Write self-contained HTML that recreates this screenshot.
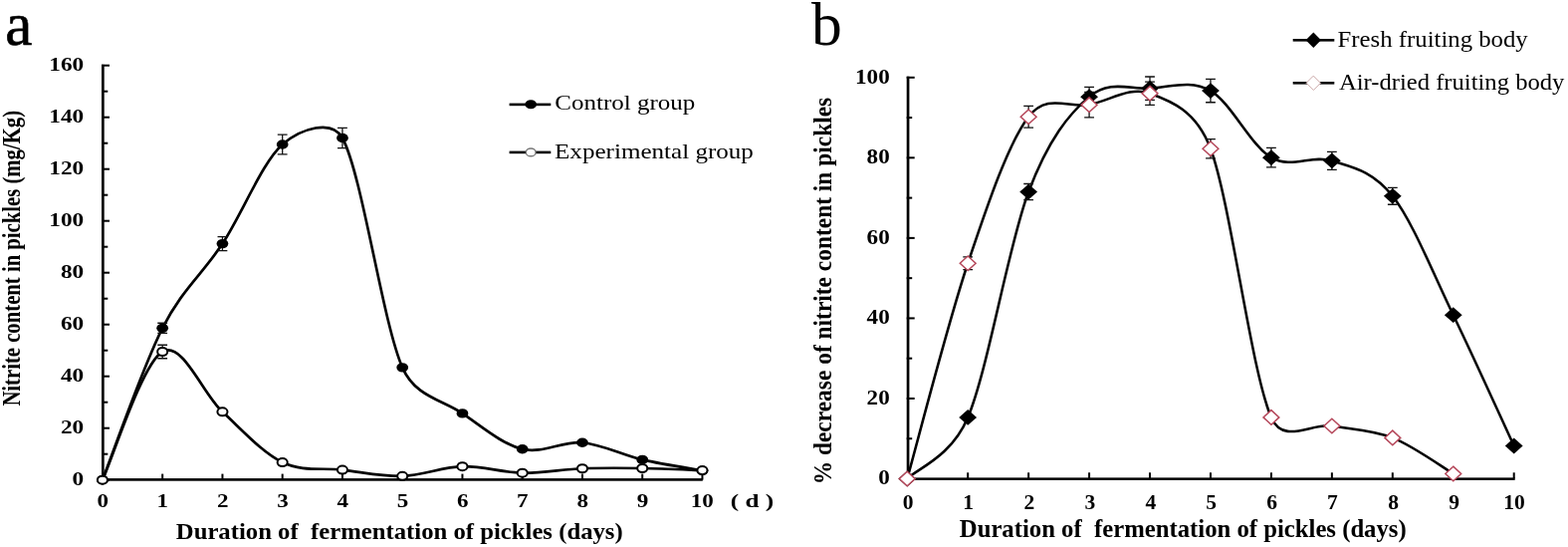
<!DOCTYPE html>
<html><head><meta charset="utf-8"><style>
html,body{margin:0;padding:0;background:#fff;}
svg{display:block;}
text{font-family:"Liberation Serif","Times New Roman",serif;white-space:pre;}
</style></head><body>
<svg width="1575" height="549" viewBox="0 0 1575 549">
<rect width="1575" height="549" fill="#fff"/>
<rect x="102" y="64.8" width="2.7" height="417.9" fill="#000"/>
<rect x="102" y="480.1" width="603.8" height="2.6" fill="#000"/>
<rect x="102" y="480.70" width="8" height="2" fill="#000"/>
<rect x="102" y="454.70" width="6.3" height="2" fill="#000"/>
<rect x="102" y="428.70" width="8" height="2" fill="#000"/>
<rect x="102" y="402.70" width="6.3" height="2" fill="#000"/>
<rect x="102" y="376.70" width="8" height="2" fill="#000"/>
<rect x="102" y="350.70" width="6.3" height="2" fill="#000"/>
<rect x="102" y="324.70" width="8" height="2" fill="#000"/>
<rect x="102" y="298.70" width="6.3" height="2" fill="#000"/>
<rect x="102" y="272.70" width="8" height="2" fill="#000"/>
<rect x="102" y="246.70" width="6.3" height="2" fill="#000"/>
<rect x="102" y="220.70" width="8" height="2" fill="#000"/>
<rect x="102" y="194.70" width="6.3" height="2" fill="#000"/>
<rect x="102" y="168.70" width="8" height="2" fill="#000"/>
<rect x="102" y="142.70" width="6.3" height="2" fill="#000"/>
<rect x="102" y="116.70" width="8" height="2" fill="#000"/>
<rect x="102" y="90.70" width="6.3" height="2" fill="#000"/>
<rect x="102" y="64.70" width="8" height="2" fill="#000"/>
<rect x="162.18" y="475.6" width="2" height="6" fill="#000"/>
<rect x="222.44" y="475.6" width="2" height="6" fill="#000"/>
<rect x="282.69" y="475.6" width="2" height="6" fill="#000"/>
<rect x="342.95" y="475.6" width="2" height="6" fill="#000"/>
<rect x="403.20" y="475.6" width="2" height="6" fill="#000"/>
<rect x="463.45" y="475.6" width="2" height="6" fill="#000"/>
<rect x="523.71" y="475.6" width="2" height="6" fill="#000"/>
<rect x="583.96" y="475.6" width="2" height="6" fill="#000"/>
<rect x="644.22" y="475.6" width="2" height="6" fill="#000"/>
<rect x="704.47" y="475.6" width="2" height="6" fill="#000"/>
<text transform="translate(72.59,486.60) scale(1.2000,1)" font-size="19.4" font-weight="700" fill="#000">0</text>
<text transform="translate(60.95,434.60) scale(1.2000,1)" font-size="19.4" font-weight="700" fill="#000">20</text>
<text transform="translate(60.95,382.60) scale(1.2000,1)" font-size="19.4" font-weight="700" fill="#000">40</text>
<text transform="translate(60.95,330.60) scale(1.2000,1)" font-size="19.4" font-weight="700" fill="#000">60</text>
<text transform="translate(60.95,278.60) scale(1.2000,1)" font-size="19.4" font-weight="700" fill="#000">80</text>
<text transform="translate(49.31,226.60) scale(1.2000,1)" font-size="19.4" font-weight="700" fill="#000">100</text>
<text transform="translate(49.31,174.60) scale(1.2000,1)" font-size="19.4" font-weight="700" fill="#000">120</text>
<text transform="translate(49.31,122.60) scale(1.2000,1)" font-size="19.4" font-weight="700" fill="#000">140</text>
<text transform="translate(49.31,70.60) scale(1.2000,1)" font-size="19.4" font-weight="700" fill="#000">160</text>
<text transform="translate(97.47,509.40) scale(1.2000,1)" font-size="19.2" font-weight="700" fill="#000">0</text>
<text transform="translate(157.38,509.40) scale(1.2000,1)" font-size="19.2" font-weight="700" fill="#000">1</text>
<text transform="translate(218.04,509.40) scale(1.2000,1)" font-size="19.2" font-weight="700" fill="#000">2</text>
<text transform="translate(278.17,509.40) scale(1.2000,1)" font-size="19.2" font-weight="700" fill="#000">3</text>
<text transform="translate(338.54,509.40) scale(1.2000,1)" font-size="19.2" font-weight="700" fill="#000">4</text>
<text transform="translate(398.68,509.40) scale(1.2000,1)" font-size="19.2" font-weight="700" fill="#000">5</text>
<text transform="translate(458.94,509.40) scale(1.2000,1)" font-size="19.2" font-weight="700" fill="#000">6</text>
<text transform="translate(518.90,509.40) scale(1.2000,1)" font-size="19.2" font-weight="700" fill="#000">7</text>
<text transform="translate(579.50,509.40) scale(1.2000,1)" font-size="19.2" font-weight="700" fill="#000">8</text>
<text transform="translate(639.87,509.40) scale(1.2000,1)" font-size="19.2" font-weight="700" fill="#000">9</text>
<text transform="translate(693.79,509.40) scale(1.2000,1)" font-size="19.2" font-weight="700" fill="#000">10</text>
<text transform="translate(733.87,508.50) scale(1.3124,1)" font-size="19.2" font-weight="700" fill="#000">( d )</text>
<text transform="translate(176.81,541.40) scale(1.0894,1)" font-size="22.7" font-weight="700" fill="#000">Duration of  fermentation of pickles (days)</text>
<text transform="translate(19.50,407.61) scale(1.2000,1.0004) rotate(-90)" font-size="20.7" font-weight="700">Nitrite content in pickles (mg/Kg)</text>
<text transform="translate(5.16,44.60) scale(0.9921,1)" font-size="61.5" font-weight="400" fill="#000" stroke="#000" stroke-width="0.7">a</text>
<path d="M102.93,481.70 C112.97,456.31 143.10,368.86 163.18,329.34 C183.27,289.82 203.35,275.30 223.44,244.58 C243.52,213.86 263.61,162.68 283.69,145.00 C302.12,128.78 333.64,119.35 343.95,138.50 C364.03,175.81 384.12,322.80 404.20,368.86 C416.99,398.19 444.37,401.23 464.45,414.88 C484.54,428.53 504.62,445.86 524.71,450.76 C544.79,455.66 564.88,442.48 584.96,444.26 C605.05,446.04 625.13,456.74 645.22,461.42 C665.30,466.10 695.43,470.52 705.47,472.34" fill="none" stroke="#000" stroke-width="2.7"/>
<path d="M102.93,481.70 C112.97,460.25 143.10,364.40 163.18,353.00 C183.27,341.60 203.35,394.82 223.44,413.32 C243.52,431.82 263.61,454.31 283.69,464.02 C303.78,473.73 323.86,469.26 343.95,471.56 C364.03,473.86 384.12,478.36 404.20,477.80 C424.28,477.24 444.37,468.70 464.45,468.18 C484.54,467.66 504.62,474.33 524.71,474.68 C544.79,475.03 564.88,471.04 584.96,470.26 C605.05,469.48 625.13,469.70 645.22,470.00 C665.30,470.30 695.43,471.73 705.47,472.08" fill="none" stroke="#000" stroke-width="2.7"/>
<path d="M163.18,324.27V334.41M158.28,324.27H168.08M158.28,334.41H168.08" stroke="#111" stroke-width="1.3" fill="none"/>
<path d="M223.44,237.56V251.60M218.54,237.56H228.34M218.54,251.60H228.34" stroke="#111" stroke-width="1.3" fill="none"/>
<path d="M283.69,135.12V154.88M278.79,135.12H288.59M278.79,154.88H288.59" stroke="#111" stroke-width="1.3" fill="none"/>
<path d="M343.95,128.36V148.64M339.05,128.36H348.85M339.05,148.64H348.85" stroke="#111" stroke-width="1.3" fill="none"/>
<path d="M163.18,346.24V359.76M158.28,346.24H168.08M158.28,359.76H168.08" stroke="#111" stroke-width="1.3" fill="none"/>
<ellipse cx="102.93" cy="481.70" rx="5.9" ry="4.7" fill="#000"/>
<ellipse cx="163.18" cy="329.34" rx="5.9" ry="4.7" fill="#000"/>
<ellipse cx="223.44" cy="244.58" rx="5.9" ry="4.7" fill="#000"/>
<ellipse cx="283.69" cy="145.00" rx="5.9" ry="4.7" fill="#000"/>
<ellipse cx="343.95" cy="138.50" rx="5.9" ry="4.7" fill="#000"/>
<ellipse cx="404.20" cy="368.86" rx="5.9" ry="4.7" fill="#000"/>
<ellipse cx="464.45" cy="414.88" rx="5.9" ry="4.7" fill="#000"/>
<ellipse cx="524.71" cy="450.76" rx="5.9" ry="4.7" fill="#000"/>
<ellipse cx="584.96" cy="444.26" rx="5.9" ry="4.7" fill="#000"/>
<ellipse cx="645.22" cy="461.42" rx="5.9" ry="4.7" fill="#000"/>
<ellipse cx="705.47" cy="472.34" rx="5.9" ry="4.7" fill="#000"/>
<ellipse cx="102.93" cy="481.70" rx="5.05" ry="4.05" fill="#fff" stroke="#000" stroke-width="2"/>
<ellipse cx="163.18" cy="353.00" rx="5.05" ry="4.05" fill="#fff" stroke="#000" stroke-width="2"/>
<ellipse cx="223.44" cy="413.32" rx="5.05" ry="4.05" fill="#fff" stroke="#000" stroke-width="2"/>
<ellipse cx="283.69" cy="464.02" rx="5.05" ry="4.05" fill="#fff" stroke="#000" stroke-width="2"/>
<ellipse cx="343.95" cy="471.56" rx="5.05" ry="4.05" fill="#fff" stroke="#000" stroke-width="2"/>
<ellipse cx="404.20" cy="477.80" rx="5.05" ry="4.05" fill="#fff" stroke="#000" stroke-width="2"/>
<ellipse cx="464.45" cy="468.18" rx="5.05" ry="4.05" fill="#fff" stroke="#000" stroke-width="2"/>
<ellipse cx="524.71" cy="474.68" rx="5.05" ry="4.05" fill="#fff" stroke="#000" stroke-width="2"/>
<ellipse cx="584.96" cy="470.26" rx="5.05" ry="4.05" fill="#fff" stroke="#000" stroke-width="2"/>
<ellipse cx="645.22" cy="470.00" rx="5.05" ry="4.05" fill="#fff" stroke="#000" stroke-width="2"/>
<ellipse cx="705.47" cy="472.08" rx="5.05" ry="4.05" fill="#fff" stroke="#000" stroke-width="2"/>
<rect x="511.6" y="103.6" width="41.7" height="2.6" fill="#000"/>
<ellipse cx="533.2" cy="104.8" rx="5.8" ry="4.5" fill="#000"/>
<text transform="translate(557.30,109.90) scale(1.2077,1)" font-size="20.7" font-weight="400" fill="#000">Control group</text>
<rect x="511.6" y="151.6" width="41.7" height="2.6" fill="#000"/>
<ellipse cx="533.2" cy="152.9" rx="4.9" ry="3.9" fill="#fff" stroke="#777" stroke-width="1.4"/>
<text transform="translate(557.05,158.80) scale(1.2120,1)" font-size="20.7" font-weight="400" fill="#000">Experimental group</text>
<rect x="910.7" y="76.7" width="2.7" height="405.2" fill="#000"/>
<rect x="910.7" y="479.4" width="611" height="2.5" fill="#000"/>
<rect x="910.7" y="479.50" width="8" height="2" fill="#000"/>
<rect x="910.7" y="439.23" width="5.5" height="2" fill="#000"/>
<rect x="910.7" y="398.96" width="8" height="2" fill="#000"/>
<rect x="910.7" y="358.69" width="5.5" height="2" fill="#000"/>
<rect x="910.7" y="318.42" width="8" height="2" fill="#000"/>
<rect x="910.7" y="278.15" width="5.5" height="2" fill="#000"/>
<rect x="910.7" y="237.88" width="8" height="2" fill="#000"/>
<rect x="910.7" y="197.61" width="5.5" height="2" fill="#000"/>
<rect x="910.7" y="157.34" width="8" height="2" fill="#000"/>
<rect x="910.7" y="117.07" width="5.5" height="2" fill="#000"/>
<rect x="910.7" y="76.80" width="8" height="2" fill="#000"/>
<rect x="971.18" y="474.3" width="2" height="6" fill="#000"/>
<rect x="1032.13" y="474.3" width="2" height="6" fill="#000"/>
<rect x="1093.07" y="474.3" width="2" height="6" fill="#000"/>
<rect x="1154.02" y="474.3" width="2" height="6" fill="#000"/>
<rect x="1214.97" y="474.3" width="2" height="6" fill="#000"/>
<rect x="1275.92" y="474.3" width="2" height="6" fill="#000"/>
<rect x="1336.87" y="474.3" width="2" height="6" fill="#000"/>
<rect x="1397.81" y="474.3" width="2" height="6" fill="#000"/>
<rect x="1458.76" y="474.3" width="2" height="6" fill="#000"/>
<rect x="1519.71" y="474.3" width="2" height="6" fill="#000"/>
<text transform="translate(882.17,486.40) scale(1.1000,1)" font-size="21" font-weight="700" fill="#000">0</text>
<text transform="translate(870.62,405.86) scale(1.1000,1)" font-size="21" font-weight="700" fill="#000">20</text>
<text transform="translate(870.62,325.32) scale(1.1000,1)" font-size="21" font-weight="700" fill="#000">40</text>
<text transform="translate(870.62,244.78) scale(1.1000,1)" font-size="21" font-weight="700" fill="#000">60</text>
<text transform="translate(870.62,164.24) scale(1.1000,1)" font-size="21" font-weight="700" fill="#000">80</text>
<text transform="translate(859.07,83.70) scale(1.1000,1)" font-size="21" font-weight="700" fill="#000">100</text>
<text transform="translate(906.65,511.10) scale(1.0500,1)" font-size="20.5" font-weight="700" fill="#000">0</text>
<text transform="translate(967.27,511.10) scale(1.0500,1)" font-size="20.5" font-weight="700" fill="#000">1</text>
<text transform="translate(1028.60,511.10) scale(1.0500,1)" font-size="20.5" font-weight="700" fill="#000">2</text>
<text transform="translate(1089.44,511.10) scale(1.0500,1)" font-size="20.5" font-weight="700" fill="#000">3</text>
<text transform="translate(1150.49,511.10) scale(1.0500,1)" font-size="20.5" font-weight="700" fill="#000">4</text>
<text transform="translate(1211.33,511.10) scale(1.0500,1)" font-size="20.5" font-weight="700" fill="#000">5</text>
<text transform="translate(1272.28,511.10) scale(1.0500,1)" font-size="20.5" font-weight="700" fill="#000">6</text>
<text transform="translate(1332.96,511.10) scale(1.0500,1)" font-size="20.5" font-weight="700" fill="#000">7</text>
<text transform="translate(1394.23,511.10) scale(1.0500,1)" font-size="20.5" font-weight="700" fill="#000">8</text>
<text transform="translate(1455.29,511.10) scale(1.0500,1)" font-size="20.5" font-weight="700" fill="#000">9</text>
<text transform="translate(1510.32,511.10) scale(1.0500,1)" font-size="20.5" font-weight="700" fill="#000">10</text>
<text transform="translate(963.81,538.50) scale(1.0214,1)" font-size="24.2" font-weight="700" fill="#000">Duration of  fermentation of pickles (days)</text>
<text transform="translate(835.00,486.36) scale(1.0500,0.9999) rotate(-90)" font-size="23.43" font-weight="700">% decrease of nitrite content in pickles</text>
<text transform="translate(815.00,44.60) scale(1.0069,1)" font-size="61.1" font-weight="400" fill="#000">b</text>
<path d="M911.23,480.50 C921.39,470.23 955.28,458.79 972.18,418.89 C992.49,370.90 1012.81,246.20 1033.13,192.57 C1053.19,139.62 1073.76,114.45 1094.07,97.13 C1114.39,79.81 1134.71,89.68 1155.02,88.67 C1175.34,87.67 1195.65,79.51 1215.97,91.09 C1236.29,102.67 1256.60,146.43 1276.92,158.14 C1297.23,169.85 1317.55,154.92 1337.87,161.36 C1358.18,167.80 1378.50,170.99 1398.81,196.80 C1419.13,222.60 1439.45,274.42 1459.76,316.20 C1480.08,357.98 1510.55,425.60 1520.71,447.48" fill="none" stroke="#000" stroke-width="2.55"/>
<path d="M911.23,480.50 C921.39,444.46 951.86,324.79 972.18,264.25 C992.49,203.71 1012.81,143.78 1033.13,117.26 C1052.02,92.61 1073.76,109.11 1094.07,105.18 C1114.39,101.26 1134.71,86.36 1155.02,93.71 C1175.34,101.06 1201.49,110.66 1215.97,149.28 C1236.29,203.48 1256.60,372.51 1276.92,418.89 C1289.27,447.08 1317.55,424.12 1337.87,427.54 C1358.18,430.97 1378.50,431.44 1398.81,439.42 C1419.13,447.41 1449.60,469.46 1459.76,475.47" fill="none" stroke="#000" stroke-width="2.55"/>
<path d="M1033.13,184.52V200.62M1028.23,184.52H1038.03M1028.23,200.62H1038.03" stroke="#111" stroke-width="1.3" fill="none"/>
<path d="M1094.07,87.46V106.79M1089.17,87.46H1098.97M1089.17,106.79H1098.97" stroke="#111" stroke-width="1.3" fill="none"/>
<path d="M1155.02,76.99V100.35M1150.12,76.99H1159.92M1150.12,100.35H1159.92" stroke="#111" stroke-width="1.3" fill="none"/>
<path d="M1215.97,79.41V102.77M1211.07,79.41H1220.87M1211.07,102.77H1220.87" stroke="#111" stroke-width="1.3" fill="none"/>
<path d="M1276.92,148.47V167.80M1272.02,148.47H1281.82M1272.02,167.80H1281.82" stroke="#111" stroke-width="1.3" fill="none"/>
<path d="M1337.87,152.30V170.42M1332.97,152.30H1342.77M1332.97,170.42H1342.77" stroke="#111" stroke-width="1.3" fill="none"/>
<path d="M1398.81,188.34V205.25M1393.91,188.34H1403.71M1393.91,205.25H1403.71" stroke="#111" stroke-width="1.3" fill="none"/>
<path d="M972.18,257.81V270.69M967.28,257.81H977.08M967.28,270.69H977.08" stroke="#111" stroke-width="1.3" fill="none"/>
<path d="M1033.13,106.39V128.14M1028.23,106.39H1038.03M1028.23,128.14H1038.03" stroke="#111" stroke-width="1.3" fill="none"/>
<path d="M1094.07,92.50V117.87M1089.17,92.50H1098.97M1089.17,117.87H1098.97" stroke="#111" stroke-width="1.3" fill="none"/>
<path d="M1155.02,82.03V105.38M1150.12,82.03H1159.92M1150.12,105.38H1159.92" stroke="#111" stroke-width="1.3" fill="none"/>
<path d="M1215.97,139.61V158.94M1211.07,139.61H1220.87M1211.07,158.94H1220.87" stroke="#111" stroke-width="1.3" fill="none"/>
<path d="M911.23,472.60L920.13,480.50L911.23,488.40L902.33,480.50Z" fill="#000"/>
<path d="M972.18,410.99L981.08,418.89L972.18,426.79L963.28,418.89Z" fill="#000"/>
<path d="M1033.13,184.67L1042.03,192.57L1033.13,200.47L1024.23,192.57Z" fill="#000"/>
<path d="M1094.07,89.23L1102.97,97.13L1094.07,105.03L1085.17,97.13Z" fill="#000"/>
<path d="M1155.02,80.77L1163.92,88.67L1155.02,96.57L1146.12,88.67Z" fill="#000"/>
<path d="M1215.97,83.19L1224.87,91.09L1215.97,98.99L1207.07,91.09Z" fill="#000"/>
<path d="M1276.92,150.24L1285.82,158.14L1276.92,166.04L1268.02,158.14Z" fill="#000"/>
<path d="M1337.87,153.46L1346.77,161.36L1337.87,169.26L1328.97,161.36Z" fill="#000"/>
<path d="M1398.81,188.90L1407.71,196.80L1398.81,204.70L1389.91,196.80Z" fill="#000"/>
<path d="M1459.76,308.30L1468.66,316.20L1459.76,324.10L1450.86,316.20Z" fill="#000"/>
<path d="M1520.71,439.58L1529.61,447.48L1520.71,455.38L1511.81,447.48Z" fill="#000"/>
<path d="M911.23,473.20L919.13,480.50L911.23,487.80L903.33,480.50Z" fill="#fff" stroke="#b5475a" stroke-width="1.5"/>
<path d="M972.18,256.95L980.08,264.25L972.18,271.55L964.28,264.25Z" fill="#fff" stroke="#b5475a" stroke-width="1.5"/>
<path d="M1033.13,109.96L1041.03,117.26L1033.13,124.56L1025.23,117.26Z" fill="#fff" stroke="#b5475a" stroke-width="1.5"/>
<path d="M1094.07,97.88L1101.97,105.18L1094.07,112.48L1086.17,105.18Z" fill="#fff" stroke="#b5475a" stroke-width="1.5"/>
<path d="M1155.02,86.41L1162.92,93.71L1155.02,101.01L1147.12,93.71Z" fill="#fff" stroke="#b5475a" stroke-width="1.5"/>
<path d="M1215.97,141.98L1223.87,149.28L1215.97,156.58L1208.07,149.28Z" fill="#fff" stroke="#b5475a" stroke-width="1.5"/>
<path d="M1276.92,411.59L1284.82,418.89L1276.92,426.19L1269.02,418.89Z" fill="#fff" stroke="#b5475a" stroke-width="1.5"/>
<path d="M1337.87,420.24L1345.77,427.54L1337.87,434.84L1329.97,427.54Z" fill="#fff" stroke="#b5475a" stroke-width="1.5"/>
<path d="M1398.81,432.12L1406.71,439.42L1398.81,446.72L1390.91,439.42Z" fill="#fff" stroke="#b5475a" stroke-width="1.5"/>
<path d="M1459.76,468.17L1467.66,475.47L1459.76,482.77L1451.86,475.47Z" fill="#fff" stroke="#b5475a" stroke-width="1.5"/>
<rect x="1298.7" y="39" width="41.6" height="2.6" fill="#000"/>
<path d="M1319.30,32.60L1327.00,40.30L1319.30,48.00L1311.60,40.30Z" fill="#000"/>
<text transform="translate(1343.56,46.80) scale(1.0323,1)" font-size="24" font-weight="400" fill="#000">Fresh fruiting body</text>
<rect x="1298.7" y="82" width="41.6" height="2.6" fill="#000"/>
<path d="M1319.30,76.10L1326.50,83.30L1319.30,90.50L1312.10,83.30Z" fill="#fff" stroke="#caa" stroke-width="1.0"/>
<text transform="translate(1344.95,89.70) scale(1.0261,1)" font-size="24" font-weight="400" fill="#000">Air-dried fruiting body</text>
</svg>
</body></html>
